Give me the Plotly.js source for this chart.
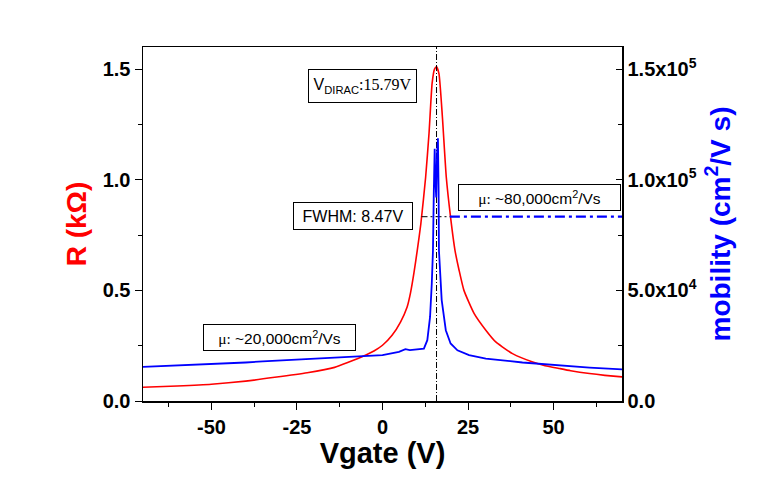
<!DOCTYPE html>
<html>
<head>
<meta charset="utf-8">
<script src="https://cdn.plot.ly/plotly-3.0.1.min.js"></script>
<style>
  html, body { margin: 0; padding: 0; background: #fff; }
  #chart { width: 775px; height: 487px; }
</style>
</head>
<body>
<div id="chart"></div>
<script>
// ---- data ----
const rVgate = [-70, -60, -50, -40, -31.5, -22, -14, -10, -5, -2.5, 0, 2.8, 5.3, 7.2, 8.2, 9.2, 10.15, 11.2, 12.6, 13.6, 14.5, 15.2, 15.79, 16.5, 17.5, 18.65, 19.9, 21.2, 22.4, 23.8, 26.8, 30.2, 33.1, 35, 38, 43.9, 47, 51.7, 55, 60.5, 65, 70];
const resistance = [0.062, 0.068, 0.076, 0.090, 0.107, 0.128, 0.152, 0.175, 0.207, 0.226, 0.252, 0.297, 0.358, 0.425, 0.490, 0.580, 0.680, 0.800, 1.010, 1.210, 1.436, 1.500, 1.510, 1.480, 1.285, 1.010, 0.830, 0.680, 0.590, 0.500, 0.395, 0.320, 0.267, 0.245, 0.214, 0.176, 0.162, 0.147, 0.137, 0.124, 0.116, 0.109];

const muVgate = [-70, -60, -50, -40, -35, -25, -15, -9.9, -5, 0, 4.8, 6.7, 8, 9.7, 12.1, 13.1, 13.9, 14.4, 14.75, 15.0, 15.25, 15.45, 15.7, 15.95, 16.2, 16.4, 16.5, 17.3, 18.5, 19.9, 21.9, 25.3, 30.2, 40.9, 50.7, 60.5, 70];
const mobility = [15400, 16000, 16600, 17400, 17900, 18700, 19500, 19900, 20300, 20700, 22200, 23400, 23000, 23300, 23700, 27500, 38000, 53000, 68000, 95000, 114000, 100000, 92000, 112000, 118700, 95000, 68000, 45600, 32000, 26000, 22900, 20700, 19200, 17400, 16200, 15100, 14300];

const vDirac = 15.79;           // V
const halfMaxR = 0.833;         // kOhm, FWHM level
const fwhmEdges = [11.4, 19.7]; // V, ends of the FWHM marker
const muHigh = 83300;           // cm^2/Vs, peak-mobility marker level
const xRange = [-70, 70];
const rRange = [0, 1.6];
const muRange = [0, 160000];

const xTickVals = [-50, -25, 0, 25, 50];
const xTickText = ['-50', '-25', '0', '25', '50'];
const muTickVals = [0, 50000, 100000, 150000];
const muTickText = ['0.0', '5.0x10<sup>4</sup>', '1.0x10<sup>5</sup>', '1.5x10<sup>5</sup>'];

// ---- traces ----
const traces = [
  { x: rVgate, y: resistance, type: 'scatter', mode: 'lines', line: { color: '#ff0000', width: 1.6, shape: 'spline', smoothing: 0.5 }, xaxis: 'x', yaxis: 'y', hoverinfo: 'skip' },
  { x: muVgate, y: mobility, type: 'scatter', mode: 'lines', line: { color: '#0000ff', width: 1.8 }, xaxis: 'x', yaxis: 'y2', hoverinfo: 'skip' },
  // Dirac point vertical marker
  { x: [vDirac, vDirac], y: rRange, type: 'scatter', mode: 'lines', line: { color: '#000', width: 1, dash: '6px,2px,1px,2px' }, xaxis: 'x', yaxis: 'y', hoverinfo: 'skip' },
  // FWHM marker
  { x: fwhmEdges, y: [halfMaxR, halfMaxR], type: 'scatter', mode: 'lines', line: { color: '#000', width: 1, dash: '6px,3px,2px,3px' }, xaxis: 'x', yaxis: 'y', hoverinfo: 'skip' },
  // high-mobility marker
  { x: [fwhmEdges[1], xRange[1]], y: [muHigh, muHigh], type: 'scatter', mode: 'lines', line: { color: '#0000ff', width: 2.2, dash: '10px,4px,3px,4px' }, xaxis: 'x', yaxis: 'y2', hoverinfo: 'skip' }
];

const tickFont = { family: 'Liberation Sans, Arial, sans-serif', size: 20, color: '#000', weight: 'bold' };
const boxFont = { family: 'Liberation Sans Narrow, Liberation Sans, Arial, sans-serif', size: 15.5, color: '#000' };

const layout = {
  width: 775, height: 487,
  margin: { l: 143, r: 153, t: 47, b: 86 },
  paper_bgcolor: '#fff', plot_bgcolor: '#fff',
  showlegend: false,
  xaxis: {
    range: xRange, showgrid: false, zeroline: false,
    showline: true, linecolor: '#000', linewidth: 1.5, mirror: true,
    ticks: 'outside', ticklen: 7, tickwidth: 1, tickcolor: '#000',
    tickvals: xTickVals, ticktext: xTickText, tickfont: tickFont,
    minor: { tick0: 0, dtick: 12.5, ticks: 'outside', ticklen: 4, tickcolor: '#000', showgrid: false },
    title: { text: 'Vgate (V)', font: { family: 'Liberation Sans, Arial, sans-serif', size: 29, color: '#000', weight: 'bold' }, standoff: 6 }
  },
  xaxis2: {
    range: xRange, overlaying: 'x', side: 'top', anchor: 'y',
    showgrid: false, zeroline: false, showline: false, showticklabels: false,
    ticks: 'inside', ticklen: 6, tickcolor: '#000', tick0: 0, dtick: 12.5
  },
  yaxis: {
    range: rRange, showgrid: false, zeroline: false,
    showline: true, linecolor: '#000', linewidth: 1.5,
    ticks: 'outside', ticklen: 7, tickcolor: '#000',
    tick0: 0, dtick: 0.5, tickformat: '.1f', tickfont: tickFont,
    minor: { dtick: 0.25, ticks: 'outside', ticklen: 4, tickcolor: '#000', showgrid: false },
    title: { text: 'R (kΩ)', font: { family: 'Liberation Sans, Arial, sans-serif', size: 28, color: '#ff0000', weight: 'bold' }, standoff: 8 }
  },
  yaxis2: {
    range: muRange, overlaying: 'y', side: 'right', anchor: 'x',
    showgrid: false, zeroline: false,
    showline: true, linecolor: '#000', linewidth: 1.5,
    ticks: 'inside', ticklen: 6, tickcolor: '#000',
    tickvals: muTickVals, ticktext: muTickText, tickfont: tickFont,
    minor: { dtick: 25000, ticks: 'inside', ticklen: 4, tickcolor: '#000', showgrid: false },
    title: { text: 'mobility (cm<sup>2</sup>/V s)', font: { family: 'Liberation Sans, Arial, sans-serif', size: 28, color: '#0000ff', weight: 'bold' }, standoff: 14 }
  },
  annotations: [
    { xref: 'x', yref: 'y', x: -5.8, y: 1.424, showarrow: false,
      text: 'V<sub>DIRAC</sub><span style="font-family:Liberation Serif, serif">:15.79V</span>',
      font: { family: 'Liberation Sans, Arial, sans-serif', size: 16, color: '#000' },
      bordercolor: '#000', borderwidth: 1, borderpad: 0, bgcolor: '#fff', width: 107, height: 32 },
    { xref: 'x', yref: 'y', x: -8.7, y: 0.835, showarrow: false,
      text: 'FWHM: 8.47V', font: { family: 'Liberation Sans, Arial, sans-serif', size: 16, color: '#000' },
      bordercolor: '#000', borderwidth: 1, borderpad: 0, bgcolor: '#fff', width: 118, height: 26 },
    { xref: 'x', yref: 'y', x: -30.1, y: 0.288, showarrow: false,
      text: '<span style="font-family:Liberation Serif, serif">μ:</span> ~20,000cm<sup>2</sup>/Vs', font: boxFont,
      bordercolor: '#000', borderwidth: 1, borderpad: 0, bgcolor: '#fff', width: 151, height: 25 },
    { xref: 'x', yref: 'y', x: 45.8, y: 0.922, showarrow: false,
      text: '<span style="font-family:Liberation Serif, serif">μ:</span> ~80,000cm<sup>2</sup>/Vs', font: boxFont,
      bordercolor: '#000', borderwidth: 1, borderpad: 0, bgcolor: '#fff', width: 161, height: 25 }
  ]
};

Plotly.newPlot('chart', traces, layout, { displayModeBar: false, staticPlot: true });
</script>
</body>
</html>
